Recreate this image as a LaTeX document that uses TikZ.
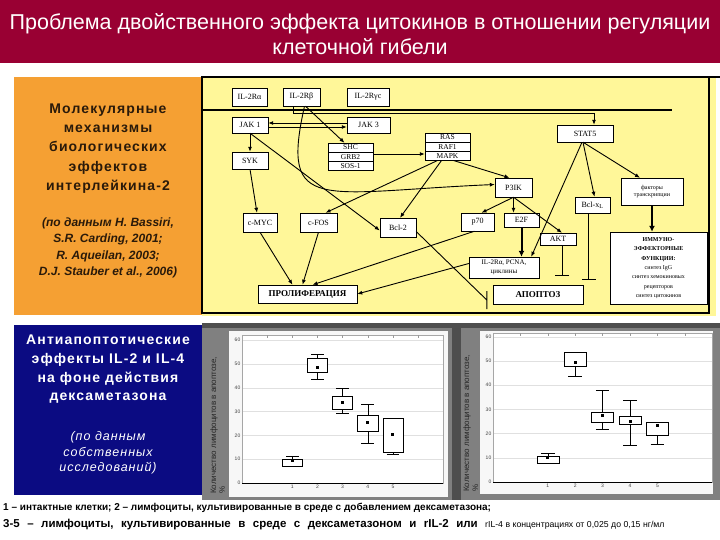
\documentclass[tikz,border=0pt]{standalone}
\usepackage{fontspec}
\setmainfont{Liberation Sans}
\newfontfamily\timesf{Liberation Serif}
\newfontfamily\spacedf[LetterSpace=8]{Liberation Sans}
\usetikzlibrary{positioning,arrows.meta}
\definecolor{titlered}{HTML}{990033}
\definecolor{panelorange}{HTML}{F5A033}
\definecolor{panelyellow}{HTML}{FFF799}
\definecolor{panelnavy}{HTML}{0B0B82}
\definecolor{framegray}{HTML}{808080}
\definecolor{framedark}{HTML}{4E4E4E}
\definecolor{darktext}{HTML}{2A1A0A}
\tikzset{
  sig/.style={draw, fill=white, font=\timesf\fontsize{8}{9}\selectfont, inner sep=0.5pt},
  row/.style={sig, minimum width=45pt, minimum height=8.8pt, inner sep=0pt,
    font=\timesf\fontsize{7.5}{8}\selectfont},
  arr/.style={-{Latex[length=5pt,width=4pt]}, line width=0.9pt},
  fatarr/.style={-{Latex[length=6pt,width=6pt]}, line width=2pt},
  blk/.style={-{Bar[width=14pt]}, line width=0.9pt},
  ticklab/.style={font=\fontsize{5}{5}\selectfont, text=darkgray, inner sep=1.5pt},
  ylab/.style={rotate=90, anchor=north west, align=left, inner sep=0pt,
    font=\fontsize{8}{9}\selectfont, text=black!85},
}

\begin{document}
\begin{tikzpicture}[x=1pt,y=-1pt]
  \useasboundingbox (0,0) rectangle (720,540);
  \fill[white] (0,0) rectangle (720,540);
  % title
  \fill[titlered] (0,0) rectangle (720,63);
  \node[font=\fontsize{21.5}{25}\selectfont, text=white, align=center] (title) at (360,34)
    {Проблема двойственного эффекта цитокинов в отношении регуляции\\клеточной гибели};

  % left panels
  \fill[panelorange] (14,77) rectangle (202,315);
  \node[font=\spacedf\bfseries\fontsize{14}{19.2}\selectfont, text=darktext, align=center] (orhead) at (108,148.5)
    {Молекулярные\\механизмы\\биологических\\эффектов\\интерлейкина-2};
  \node[font=\bfseries\itshape\fontsize{12}{16.5}\selectfont, text=darktext, align=center] (orref) at (108,248)
    {(по данным H. Bassiri,\\S.R. Carding, 2001;\\R. Aqueilan, 2003;\\D.J. Stauber et al., 2006)};
  \fill[panelnavy] (14,325) rectangle (202,495);
  \node[font=\spacedf\bfseries\fontsize{14}{18.7}\selectfont, text=white, align=center] (bluehead) at (108,369.5)
    {Антиапоптотические\\эффекты IL-2 и IL-4\\на фоне действия\\дексаметазона};
  \node[font=\spacedf\itshape\fontsize{12.5}{15.5}\selectfont, text=white, align=center] (blueref) at (108,453)
    {(по данным\\собственных\\исследований)};

  % signalling scheme
  \fill[panelyellow] (202,77) rectangle (716,316);
  \draw[line width=1.2pt] (202,77) rectangle (709,313);
  \draw[line width=1.8pt] (202,77) -- (720,77);
  \draw[line width=1.8pt] (202,110) -- (672,110);

  \node[sig, minimum width=35pt, minimum height=18pt] (il2ra) at (249.5,97) {IL-2Rα};
  \node[sig, minimum width=37pt, minimum height=18pt] (il2rb) at (301.5,97) {IL-2Rβ};
  \node[sig, minimum width=42pt, minimum height=18pt] (il2rg) at (368,97) {IL-2Rγc};
  \node[sig, minimum width=36pt, minimum height=16pt] (jak1) at (250,125) {JAK 1};
  \node[sig, minimum width=43pt, minimum height=16pt] (jak3) at (368.5,125) {JAK 3};
  \node[sig, minimum width=56pt, minimum height=17pt] (stat5) at (585,133.5) {STAT5};
  \node[row] (shc) at (350.5,147.4) {SHC};
  \node[row, below=0pt of shc] (grb2) {GRB2};
  \node[row, below=0pt of grb2] (sos1) {SOS-1};
  \node[row] (ras) at (447.5,137.5) {RAS};
  \node[row, below=0pt of ras] (raf1) {RAF1};
  \node[row, below=0pt of raf1] (mapk) {MAPK};
  \node[sig, minimum width=36pt, minimum height=17pt] (syk) at (250,160.5) {SYK};
  \node[sig, minimum width=37pt, minimum height=19pt] (pik) at (513.5,187.5) {P3IK};
  \node[sig, minimum width=35pt, minimum height=16pt] (bclxl) at (592.5,205) {Bcl-x\textsubscript{L}};
  \node[sig, minimum width=62pt, minimum height=27pt, align=center,
    font=\timesf\fontsize{6}{7.5}\selectfont] (factors) at (652,191.5) {факторы\\транскрипции};
  \node[sig, minimum width=34pt, minimum height=19pt] (cmyc) at (260,222.5) {c-MYC};
  \node[sig, minimum width=37pt, minimum height=19pt] (cfos) at (318.5,222.5) {c-FOS};
  \node[sig, minimum width=36pt, minimum height=19pt] (bcl2) at (398,227.5) {Bcl-2};
  \node[sig, minimum width=33pt, minimum height=18pt] (p70) at (477.5,222) {p70};
  \node[sig, minimum width=35pt, minimum height=14pt] (e2f) at (521.5,220) {E2F};
  \node[sig, minimum width=36pt, minimum height=12pt] (akt) at (558,239) {AKT};
  \node[sig, minimum width=70pt, minimum height=21pt, align=center,
    font=\timesf\fontsize{7}{8.5}\selectfont] (targets) at (504,267.5) {IL-2Rα, PCNA,\\циклины};
  \node[sig, minimum width=97pt, minimum height=72pt, align=center,
    font=\timesf\fontsize{6}{9.3}\selectfont] (immune) at (658.5,268)
    {\textbf{ИММУНО-}\\\textbf{ЭФФЕКТОРНЫЕ}\\\textbf{ФУНКЦИИ:}\\синтез IgG\\синтез хемокиновых\\рецепторов\\синтез цитокинов};
  \node[sig, minimum width=99pt, minimum height=18pt,
    font=\timesf\bfseries\fontsize{9}{10}\selectfont] (prolif) at (307.5,294) {ПРОЛИФЕРАЦИЯ};
  \node[sig, minimum width=90pt, minimum height=19pt,
    font=\timesf\bfseries\fontsize{9}{10}\selectfont] (apopt) at (538,295) {АПОПТОЗ};

  \draw[arr] ([xshift=-8.5pt]il2rb.south) -- ++(0,7) -| ([xshift=9pt]stat5.north);
  \draw[arr] ([yshift=2pt]jak3.west) -- ([yshift=2pt]jak1.east);
  \draw[arr] ([yshift=-2pt]jak1.east) -- ([yshift=-2pt]jak3.west);
  \draw[arr] ([xshift=4pt]il2rb.south) -- ([xshift=-6pt]shc.north);
  \draw[arr] ([xshift=3pt]il2rb.south) .. controls (280,215) and (320,192) .. ([yshift=3pt]pik.west);
  \draw[arr] (jak1.south) -- (syk.north);
  \draw[arr] (jak1.south) -- ([yshift=-3pt]bcl2.west);
  \draw[arr] ([yshift=-2pt]shc.south east) -- ([yshift=-2pt]shc.south east -| raf1.west);
  \draw[arr] ([xshift=6pt]mapk.south) -- ([xshift=-4pt]pik.north);
  \draw[arr] ([xshift=-10pt]mapk.south) -- ([xshift=7pt]cfos.north);
  \draw[arr] ([xshift=-6pt]mapk.south) -- ([xshift=2pt]bcl2.north);
  \draw[arr] (syk.south) -- ([xshift=-3pt]cmyc.north);
  \draw[arr] (pik.south) -- ([xshift=4pt]p70.north);
  \draw[arr] (pik.south) -- ([xshift=-8pt]e2f.north);
  \draw[arr] (pik.south) -- ([xshift=4pt]akt.north);
  \draw[arr] ([xshift=-2pt]stat5.south) -- ([xshift=2pt]bclxl.north);
  \draw[arr] ([xshift=-2pt]stat5.south) -- ([xshift=-12pt]factors.north);
  \draw[arr] ([xshift=-3pt]stat5.south) -- ([xshift=-8pt]targets.north east);
  \draw[fatarr] (e2f.south) -- (e2f.south |- targets.north);
  \draw[fatarr] (factors.south) -- (factors.south |- immune.north);
  \draw[arr] (cmyc.south) -- ([xshift=-15pt]prolif.north);
  \draw[arr] (cfos.south) -- ([xshift=-5pt]prolif.north);
  \draw[arr] ([xshift=-3pt]p70.south) -- ([xshift=5pt]prolif.north);
  \draw[arr] ([yshift=4pt]targets.west) -- (prolif.east);
  \draw[line width=0.9pt] ([yshift=-4pt]bcl2.east) -- ([xshift=-6pt,yshift=-5pt]apopt.west)
    ++(0,-9) -- ++(0,18);
  \draw[blk] ([xshift=4pt]akt.south) -- ++(0,31);
  \draw[blk] ([xshift=-4pt]bclxl.south) -- ++(0,67);

  % charts
  \fill[framegray] (202,323) rectangle (720,500);
  \fill[framedark] (202,323) rectangle (720,328);
  \fill[framedark] (452,323) rectangle (461,500);
  \fill[black!3] (229,331) rectangle (448,497);
  \fill[black!3] (480,331) rectangle (713,494);
  \node[ylab] (ylab1) at (210,494) {Количество лимфоцитов в апоптозе,\\\%};
  \node[ylab] (ylab2) at (463,492) {Количество лимфоцитов в апоптозе,\\\%};

  \begin{scope}[shift={(242,483)}, x=25.15pt, y=2.38pt]
    \fill[white] (0,0) rectangle (8,62);
    \foreach \v in {10,20,...,60}
      \draw[black!12] (0,\v) -- (8,\v);
    \draw[black!35] (0,0) rectangle (8,62);
    \draw[line width=0.9pt] (0,0) -- (8,0);
    \foreach \k in {1,...,7}
      \draw[black!40] (\k,62) -- (\k,60.8);
    \foreach \v in {0,10,...,60}
      \node[ticklab, left] (ya\v) at (0,\v) {\v};
    \foreach \k in {1,...,5}
      \node[ticklab, below] (xa\k) at (\k+1,0) {\k};
    \foreach \k/\lo/\qa/\m/\qb/\hi in {1/7/7/9.5/10/11.2, 2/43.5/46.7/48.5/52.3/54,
        3/29.3/31/33.8/36.3/39.7, 4/16.7/21.6/25.5/28.6/33, 5/11.9/12.8/20.5/27.2/27.2} {
      \draw (\k+1,\lo) -- (\k+1,\hi);
      \draw (\k+0.75,\lo) -- (\k+1.25,\lo) (\k+0.75,\hi) -- (\k+1.25,\hi);
      \draw[fill=white] (\k+0.6,\qa) rectangle (\k+1.4,\qb);
      \fill (\k+1,\m) ++(-1.5pt,-1.5pt) rectangle ++(3pt,3pt);
    }
  \end{scope}

  \begin{scope}[shift={(493,482)}, x=27.4pt, y=2.42pt]
    \fill[white] (0,0) rectangle (8,61.5);
    \foreach \v in {10,20,...,60}
      \draw[black!12] (0,\v) -- (8,\v);
    \draw[black!35] (0,0) rectangle (8,61.5);
    \draw[line width=0.9pt] (0,0) -- (8,0);
    \foreach \k in {1,...,7}
      \draw[black!40] (\k,61.5) -- (\k,60.3);
    \foreach \v in {0,10,...,60}
      \node[ticklab, left] (yb\v) at (0,\v) {\v};
    \foreach \k in {1,...,5}
      \node[ticklab, below] (xb\k) at (\k+1,0) {\k};
    \foreach \k/\lo/\qa/\m/\qb/\hi in {1/7.9/7.9/10/10.6/11.7, 2/43.8/48/49.4/53.8/53.8,
        3/22/24.6/27.5/28.8/37.9, 4/15.1/23.9/25/27.1/33.6, 5/15.6/19.2/23.3/24.6/24.6} {
      \draw (\k+1,\lo) -- (\k+1,\hi);
      \draw (\k+0.75,\lo) -- (\k+1.25,\lo) (\k+0.75,\hi) -- (\k+1.25,\hi);
      \draw[fill=white] (\k+0.6,\qa) rectangle (\k+1.4,\qb);
      \fill (\k+1,\m) ++(-1.5pt,-1.5pt) rectangle ++(3pt,3pt);
    }
  \end{scope}

  % caption
  \node[anchor=west, inner sep=0pt, font=\bfseries\fontsize{10}{12}\selectfont] (cap1) at (3,508)
    {1 – интактные клетки; 2 – лимфоциты, культивированные в среде с добавлением дексаметазона;};
  \node[anchor=west, inner sep=0pt, font=\bfseries\fontsize{11.5}{13}\selectfont] (cap2) at (3,525)
    {\spaceskip=7.5pt 3-5 – лимфоциты, культивированные в среде с дексаметазоном и rIL-2 или
     {\mdseries\fontsize{8.7}{10}\selectfont\spaceskip=2.5pt rIL-4 в концентрациях от 0,025 до 0,15 нг/мл}};
\end{tikzpicture}
\end{document}
